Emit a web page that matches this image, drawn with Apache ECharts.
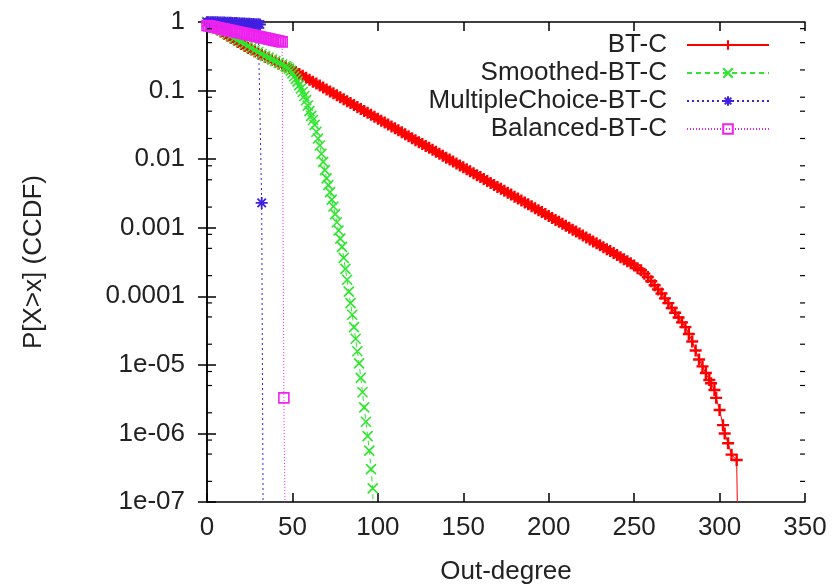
<!DOCTYPE html>
<html>
<head>
<meta charset="utf-8">
<script src="https://cdn.jsdelivr.net/npm/echarts@6/dist/echarts.min.js"></script>
<style>
  html, body { margin: 0; padding: 0; background: #fff; }
  #chart { width: 835px; height: 588px; }
</style>
</head>
<body>
<div id="chart"></div>
<script>
// Out-degree CCDF for the four BT-C variants (log-scaled probability).
var btcDegree = [0,2,4,6,8,10,12,14,16,18,20,22,24,26,28,30,32,34,36,38,40,42,44,46,48,50,
  52,54,56,58,60,62,64,66,68,70,72,74,76,78,80,82,84,86,88,90,92,94,96,98,100,
  102,104,106,108,110,112,114,116,118,120,122,124,126,128,130,132,134,136,138,140,
  142,144,146,148,150,152,154,156,158,160,162,164,166,168,170,172,174,176,178,180,
  182,184,186,188,190,192,194,196,198,200,202,204,206,208,210,212,214,216,218,220,
  222,224,226,228,230,232,234,236,238,240,242,244,246,248,250,252,254,256,258,260,
  262,264,266,268,270,272,274,276,278,280,282,284,286,288,290,292,294,295,297,298,
  300,302,303,305,307,310,311];
var btcCcdf = [0.98,0.912,0.832,0.776,0.724,0.676,0.631,0.589,0.550,0.513,0.479,0.447,0.417,0.398,0.372,0.347,0.331,0.309,0.295,0.279,0.263,0.248,0.234,0.224,0.211,0.200,
  0.187,0.175,0.164,0.1536,0.1439,0.1348,0.1263,0.1183,0.1108,0.1038,0.0972,0.0911,0.0853,0.0799,0.0748,0.0701,0.0657,0.0615,0.0576,0.0540,0.0505,0.0473,0.0443,0.0415,0.0389,
  0.0364,0.0341,0.0320,0.0300,0.0281,0.0263,0.0246,0.0231,0.0216,0.0202,0.0189,0.0177,0.0166,0.0156,0.0146,0.01366,0.0128,0.01199,0.01123,0.01052,
  0.00985,0.00923,0.00865,0.00810,0.00759,0.00710,0.00665,0.00623,0.00584,0.00547,0.00512,0.00480,0.00450,0.00421,0.00394,0.00369,0.00346,0.00324,0.00304,0.00284,
  0.00266,0.00250,0.00234,0.00219,0.00205,0.00192,0.00180,0.00169,0.00158,0.00148,0.00139,0.00130,0.00122,0.00114,0.00107,0.00100,0.000936,0.000877,0.000821,0.000769,
  0.000720,0.000675,0.000632,0.000592,0.000555,0.000520,0.000487,0.000456,0.000427,0.000400,0.000372,0.000347,0.000324,0.000302,0.000282,0.000257,0.000240,0.000214,0.000191,0.000166,
  0.000145,0.000126,0.000110,0.0000933,0.0000794,0.0000676,0.0000575,0.0000490,0.0000417,0.0000355,0.0000282,0.0000219,0.0000162,0.0000120,0.0000095,0.0000076,0.0000060,0.0000054,0.0000043,0.0000033,
  0.0000022,0.00000132,0.0000010,0.00000072,0.00000049,0.00000041,1e-8];

var smoothedDegree = [0,2,4,6,8,10,12,14,16,18,20,22,24,26,28,30,32,34,36,38,40,42,44,46,
  47,48,49,50,51,52,53,54,55,56,57,58,59,60,61,62,63,64,65,66,67,68,69,70,
  71,72,73,74,75,76,77,78,79,80,81,82,83,84,85,86,87,88,89,90,91,92,93,94,95,96,97,98];
var smoothedCcdf = [1.0,0.935,0.875,0.817,0.764,0.714,0.668,0.625,0.583,0.546,0.511,0.477,0.447,0.417,0.390,0.365,0.341,0.319,0.302,0.285,0.269,0.254,0.240,0.226,
  0.219,0.209,0.195,0.178,0.162,0.148,0.135,0.120,0.107,0.0955,0.0832,0.0724,0.0603,0.0501,0.0427,0.0372,0.0316,0.0251,0.0200,0.0158,0.0120,0.00912,0.00692,0.00525,
  0.00417,0.00331,0.00257,0.00204,0.00158,0.00120,0.000912,0.000692,0.000525,0.000363,0.000251,0.000174,0.000117,0.0000794,0.0000537,0.0000355,0.0000240,0.0000158,0.0000105,0.00000646,
  0.00000398,0.00000240,0.00000148,0.000000912,0.000000562,0.000000302,0.000000158,1e-8];

var multipleDegree = [0,1,2,3,4,5,6,7,8,9,10,11,12,13,14,15,16,17,18,19,20,21,22,23,24,25,26,27,28,29,30,31,32,33];
var multipleCcdf = [0.995,0.994,0.993,0.992,0.991,0.99,0.988,0.987,0.985,0.983,0.981,0.979,0.977,0.975,0.972,0.969,0.966,0.963,0.96,0.957,
  0.954,0.951,0.948,0.945,0.942,0.939,0.936,0.933,0.93,0.927,0.924,0.92,0.0023,1e-8];

var balancedDegree = [0,1,2,3,4,5,6,7,8,9,10,11,12,13,14,15,16,17,18,19,20,21,22,23,24,25,26,27,28,29,30,31,32,33,34,35,36,37,38,39,40,41,42,43,44,45,46];
var balancedCcdf = [0.891,0.881,0.869,0.860,0.848,0.838,0.826,0.817,0.805,0.796,0.785,0.776,0.767,0.756,0.748,0.738,0.730,0.719,0.711,0.702,
  0.693,0.686,0.676,0.669,0.659,0.651,0.643,0.635,0.626,0.620,0.611,0.604,0.597,0.589,0.583,0.574,0.567,0.560,0.553,0.545,
  0.540,0.533,0.526,0.520,0.513,0.0000033,1e-8];

var seriesNames = ['BT-C', 'Smoothed-BT-C', 'MultipleChoice-BT-C', 'Balanced-BT-C'];
var xTicks = [0, 50, 100, 150, 200, 250, 300, 350];
var yTickLabels = ['1', '0.1', '0.01', '0.001', '0.0001', '1e-05', '1e-06', '1e-07'];
var yMinorMantissa = [2, 5, 8];

function pairs(xs, ys) {
  return xs.map(function (x, i) { return [x, ys[i]]; });
}

// gnuplot-style point glyphs
var plusPath = 'path://M5,0L5,10M0,5L10,5';
var crossPath = 'path://M0,0L10,10M10,0L0,10';
var starPath = 'path://M5,0L5,10M0,5L10,5M1.5,1.5L8.5,8.5M8.5,1.5L1.5,8.5';
var boxPath = 'path://M0,0L10,0L10,10L0,10Z';

var FONT = 'Liberation Sans';
var FS = 26;

var minorData = [];
for (var d = 0; d < 7; d++) {
  yMinorMantissa.forEach(function (m) { minorData.push([0, m * Math.pow(10, -7 + d)]); });
}

var chart = echarts.init(document.getElementById('chart'), null, { renderer: 'canvas' });

function lineSeries(name, data, color, dash, symbol, size, stroke) {
  return {
    name: name,
    type: 'line',
    data: data,
    symbol: symbol,
    symbolSize: size,
    showAllSymbol: true,
    clip: true,
    animation: false,
    lineStyle: { color: color, width: 1, type: dash },
    itemStyle: { color: 'none', borderColor: color, borderWidth: stroke },
    emphasis: { disabled: true }
  };
}

var option = {
  backgroundColor: '#fff',
  animation: false,
  textStyle: { fontFamily: FONT },
  grid: { left: 207, right: 30, top: 22, bottom: 86, outerBoundsMode: 'none', containLabel: false },
  legend: {
    data: seriesNames,
    orient: 'vertical',
    align: 'right',
    right: 65,
    top: 32,
    padding: 0,
    itemGap: 2,
    itemWidth: 82,
    itemHeight: 12,
    selectedMode: false,
    textStyle: { fontFamily: FONT, fontSize: FS, color: '#222', padding: [0, 15, 0, 0], lineHeight: 25 }
  },
  xAxis: [{
    type: 'value', min: 0, max: 350, interval: 50,
    name: 'Out-degree', nameLocation: 'middle', nameGap: 57,
    nameTextStyle: { fontFamily: FONT, fontSize: FS, color: '#222' },
    axisLine: { lineStyle: { color: '#000', width: 1.5 } },
    axisTick: { inside: true, length: 9, lineStyle: { color: '#000', width: 1.5 } },
    axisLabel: { fontFamily: FONT, fontSize: FS, color: '#222', margin: 13 },
    splitLine: { show: false }
  }, {
    type: 'value', min: 0, max: 350, interval: 50, position: 'top',
    axisLine: { lineStyle: { color: '#000', width: 1.5 } },
    axisTick: { inside: true, length: 9, lineStyle: { color: '#000', width: 1.5 } },
    axisLabel: { show: false },
    splitLine: { show: false }
  }],
  yAxis: [{
    type: 'log', logBase: 10, min: 1e-7, max: 1,
    name: 'P[X>x] (CCDF)', nameLocation: 'middle', nameGap: 160,
    nameTextStyle: { fontFamily: FONT, fontSize: FS, color: '#222' },
    axisLine: { lineStyle: { color: '#000', width: 1.5 } },
    axisTick: { inside: true, length: 9, lineStyle: { color: '#000', width: 1.5 } },
    axisLabel: {
      fontFamily: FONT, fontSize: FS, color: '#222', margin: 22,
      formatter: function (v) { return yTickLabels[Math.round(-Math.log10(v))]; }
    },
    splitLine: { show: false }
  }, {
    type: 'log', logBase: 10, min: 1e-7, max: 1, position: 'right',
    axisLine: { lineStyle: { color: '#000', width: 1.5 } },
    axisTick: { inside: true, length: 9, lineStyle: { color: '#000', width: 1.5 } },
    axisLabel: { show: false },
    splitLine: { show: false }
  }],
  series: [
    lineSeries(seriesNames[0], pairs(btcDegree, btcCcdf), '#ff0000', 'solid', plusPath, 12, 2.4),
    lineSeries(seriesNames[1], pairs(smoothedDegree, smoothedCcdf), '#2ee62e', [5, 4], crossPath, 10, 1.6),
    lineSeries(seriesNames[2], pairs(multipleDegree, multipleCcdf), '#4020e0', [2, 3], starPath, 12, 1.8),
    lineSeries(seriesNames[3], pairs(balancedDegree, balancedCcdf), '#ee22ee', [1, 2], boxPath, 10, 1.6),
    {
      // minor tick marks on both log axes
      type: 'custom',
      silent: true,
      clip: false,
      z: 5,
      data: minorData,
      renderItem: function (params, api) {
        var v = api.value(1);
        var l = api.coord([0, v]);
        var r = api.coord([350, v]);
        var st = { stroke: '#000', lineWidth: 1.2 };
        return {
          type: 'group',
          children: [
            { type: 'line', shape: { x1: l[0], y1: l[1], x2: l[0] + 5, y2: l[1] }, style: st },
            { type: 'line', shape: { x1: r[0], y1: r[1], x2: r[0] - 5, y2: r[1] }, style: st }
          ]
        };
      }
    }
  ]
};

chart.setOption(option);
</script>
</body>
</html>
